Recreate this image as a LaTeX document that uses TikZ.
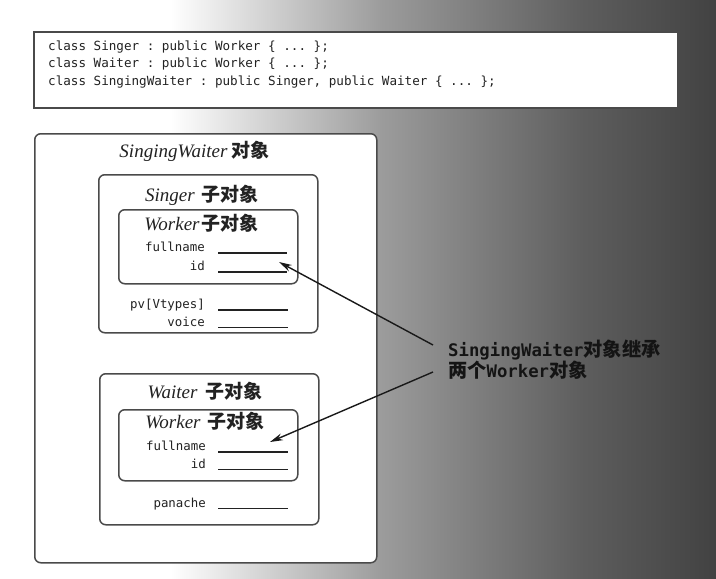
\documentclass[tikz,border=0pt]{standalone}
\usepackage{fontspec}
\setmainfont{Liberation Serif}
\setmonofont{DejaVu Sans Mono}
\newfontfamily\cjk{Noto Sans CJK SC}
\usetikzlibrary{arrows.meta,calc}

\definecolor{shadeA}{HTML}{9C9C9C}
\definecolor{shadeB}{HTML}{5E5E5E}
\definecolor{shadeC}{HTML}{424242}
\definecolor{frame}{HTML}{4A4A4A}
\definecolor{ink}{HTML}{222222}

% title: italic class name followed by the CJK caption
\newcommand\objtitle[3][4pt]{{\fontsize{19}{20}\selectfont\itshape #2}\hspace{#1}{\cjk\bfseries\fontsize{19}{20}\selectfont #3}}

\tikzset{
  codebox/.style={draw=frame, line width=1.6pt, fill=white, inner sep=0pt},
  objbox/.style={draw=frame, line width=1.5pt, fill=white, rounded corners=6pt, inner sep=0pt},
  codeline/.style={anchor=base west, inner sep=0pt, text=ink, font=\fontsize{12.6}{17}\ttfamily},
  fieldname/.style={anchor=base east, inner sep=0pt, text=ink, font=\fontsize{12.4}{17}\ttfamily},
  titletext/.style={inner sep=0pt, text=ink},
  blank/.style={draw=ink, line width=1.1pt},
  ptr/.style={draw=black!90, line width=1.4pt, -{Stealth[length=13pt,width=7pt]}},
}

\begin{document}
\begin{tikzpicture}[x=1pt,y=-1pt]
  \useasboundingbox (0,0) rectangle (716,579);

  % backdrop: white on the left, darkening towards the right edge
  \fill[white] (0,0) rectangle (171,579);
  \shade[left color=white, right color=shadeA] (170,0) rectangle (381,579);
  \shade[left color=shadeA, right color=shadeB] (380,0) rectangle (581,579);
  \shade[left color=shadeB, right color=shadeC] (580,0) rectangle (716,579);

  % class declarations
  \node[codebox, minimum width=644pt, minimum height=76pt, anchor=north west] (code) at (33,31) {};
  \node[codeline] (c1) at (48,50) {class Singer : public Worker \{ ... \};};
  \node[codeline] (c2) at (48,67) {class Waiter : public Worker \{ ... \};};
  \node[codeline] (c3) at (48,85) {class SingingWaiter : public Singer, public Waiter \{ ... \};};

  % SingingWaiter object
  \node[objbox, minimum width=342pt, minimum height=429pt, anchor=north west] (sw) at (34,133) {};
  \node[titletext] (swt) at (194.5,151) {\objtitle{SingingWaiter}{对象}};

  % Singer sub-object
  \node[objbox, minimum width=219pt, minimum height=158pt, anchor=north west] (singer) at (98,174) {};
  \node[titletext] (singert) at (202,195) {\objtitle[7pt]{Singer}{子对象}};
  \node[objbox, minimum width=179pt, minimum height=74pt, anchor=north west] (wk1) at (118,209) {};
  \node[titletext] (wk1t) at (201.5,223) {\objtitle[2pt]{Worker}{子对象}};
  \node[fieldname] (f1) at (205,251) {fullname};
  \node[fieldname] (i1) at (205,270) {id};
  \node[fieldname] (pv) at (205,308) {pv[Vtypes]};
  \node[fieldname] (vo) at (205,326) {voice};
  \draw[blank] (218,253) -- (287,253);
  \draw[blank] (218,272) -- (287,272);
  \draw[blank] (218,310) -- (288,310);
  \draw[blank] (218,327.5) -- (288,327.5);

  % Waiter sub-object
  \node[objbox, minimum width=219pt, minimum height=151pt, anchor=north west] (waiter) at (99,373) {};
  \node[titletext] (waitert) at (205,391) {\objtitle[8pt]{Waiter}{子对象}};
  \node[objbox, minimum width=179pt, minimum height=71pt, anchor=north west] (wk2) at (118,409) {};
  \node[titletext] (wk2t) at (205,421) {\objtitle[7pt]{Worker}{子对象}};
  \node[fieldname] (f2) at (206,450) {fullname};
  \node[fieldname] (i2) at (206,468) {id};
  \node[fieldname] (pa) at (206,507) {panache};
  \draw[blank] (218,452) -- (288,452);
  \draw[blank] (218,469.5) -- (288,469.5);
  \draw[blank] (218,508.5) -- (288,508.5);

  % remark and its two pointers
  \node[inner sep=0pt, anchor=north west, align=left, text=black!92] (note) at (448,340)
    {{\fontsize{17.3}{23}\ttfamily\bfseries SingingWaiter}{\cjk\bfseries\fontsize{19.2}{23}\selectfont 对象继承}\\
     {\cjk\bfseries\fontsize{19.2}{23}\selectfont 两个}{\fontsize{17.3}{23}\ttfamily\bfseries Worker}{\cjk\bfseries\fontsize{19.2}{23}\selectfont 对象}};
  \coordinate (p1) at (279,262);
  \coordinate (p2) at (270,442);
  \draw[ptr] ($(note.north west)+(-15,5)$) -- (p1);
  \draw[ptr] ($(note.south west)+(-15,-8)$) -- (p2);
\end{tikzpicture}
\end{document}
